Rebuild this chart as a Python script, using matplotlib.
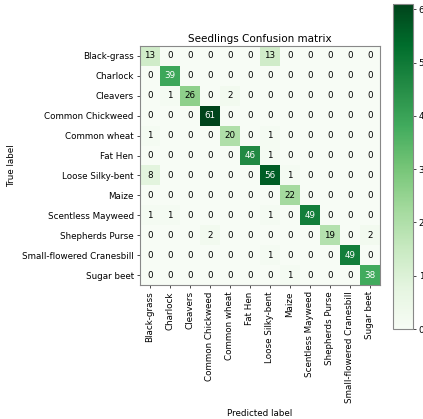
import numpy as np
import matplotlib
matplotlib.use('Agg')
import matplotlib.pyplot as plt

# Seedlings classes and confusion matrix counts (rows: true, cols: predicted)
classes = ['Black-grass', 'Charlock', 'Cleavers', 'Common Chickweed',
           'Common wheat', 'Fat Hen', 'Loose Silky-bent', 'Maize',
           'Scentless Mayweed', 'Shepherds Purse',
           'Small-flowered Cranesbill', 'Sugar beet']

row_blackgrass = [13, 0, 0, 0, 0, 0, 13, 0, 0, 0, 0, 0]
row_charlock = [0, 39, 0, 0, 0, 0, 0, 0, 0, 0, 0, 0]
row_cleavers = [0, 1, 26, 0, 2, 0, 0, 0, 0, 0, 0, 0]
row_chickweed = [0, 0, 0, 61, 0, 0, 0, 0, 0, 0, 0, 0]
row_wheat = [1, 0, 0, 0, 20, 0, 1, 0, 0, 0, 0, 0]
row_fathen = [0, 0, 0, 0, 0, 46, 1, 0, 0, 0, 0, 0]
row_silkybent = [8, 0, 0, 0, 0, 0, 56, 1, 0, 0, 0, 0]
row_maize = [0, 0, 0, 0, 0, 0, 0, 22, 0, 0, 0, 0]
row_mayweed = [1, 1, 0, 0, 0, 0, 1, 0, 49, 0, 0, 0]
row_shepherds = [0, 0, 0, 2, 0, 0, 0, 0, 0, 19, 0, 2]
row_cranesbill = [0, 0, 0, 0, 0, 0, 1, 0, 0, 0, 49, 0]
row_sugarbeet = [0, 0, 0, 0, 0, 0, 0, 1, 0, 0, 0, 38]

cm = np.array([row_blackgrass, row_charlock, row_cleavers, row_chickweed,
               row_wheat, row_fathen, row_silkybent, row_maize,
               row_mayweed, row_shepherds, row_cranesbill, row_sugarbeet])

fs = 6.3
fig = plt.figure(figsize=(4.23, 4.19), dpi=100)
ax = fig.add_axes([140 / 423, 1 - 285 / 419, 240 / 423, 239 / 419])
cax = fig.add_axes([393 / 423, 1 - 329 / 419, 20 / 423, 325 / 419])

im = ax.imshow(cm, interpolation='nearest', cmap=plt.cm.Greens, aspect='auto')
ax.set_title('Seedlings Confusion matrix', fontsize=7.5, pad=3)
cb = fig.colorbar(im, cax=cax)
cb.set_ticks([0, 10, 20, 30, 40, 50, 60])
cb.ax.tick_params(labelsize=fs, length=2.5, width=0.5, pad=1.5)
cb.outline.set_edgecolor('#888888')
cb.outline.set_linewidth(0.8)

ticks = np.arange(len(classes))
ax.set_xticks(ticks)
ax.set_xticklabels(classes, rotation=90, fontsize=fs)
ax.set_yticks(ticks)
ax.set_yticklabels(classes, fontsize=fs)
ax.tick_params(length=2.5, width=0.5, pad=2)
for s in ax.spines.values():
    s.set_edgecolor('#888888')
    s.set_linewidth(0.8)

thresh = cm.max() / 2.
for i in range(cm.shape[0]):
    for j in range(cm.shape[1]):
        ax.text(j, i, format(cm[i, j], 'd'), ha='center', va='center',
                fontsize=fs, color='white' if cm[i, j] > thresh else 'black')

ax.set_ylabel('True label', fontsize=fs, labelpad=4)
ax.set_xlabel('Predicted label', fontsize=fs, labelpad=4)

fig.savefig('out.png', dpi=100)
